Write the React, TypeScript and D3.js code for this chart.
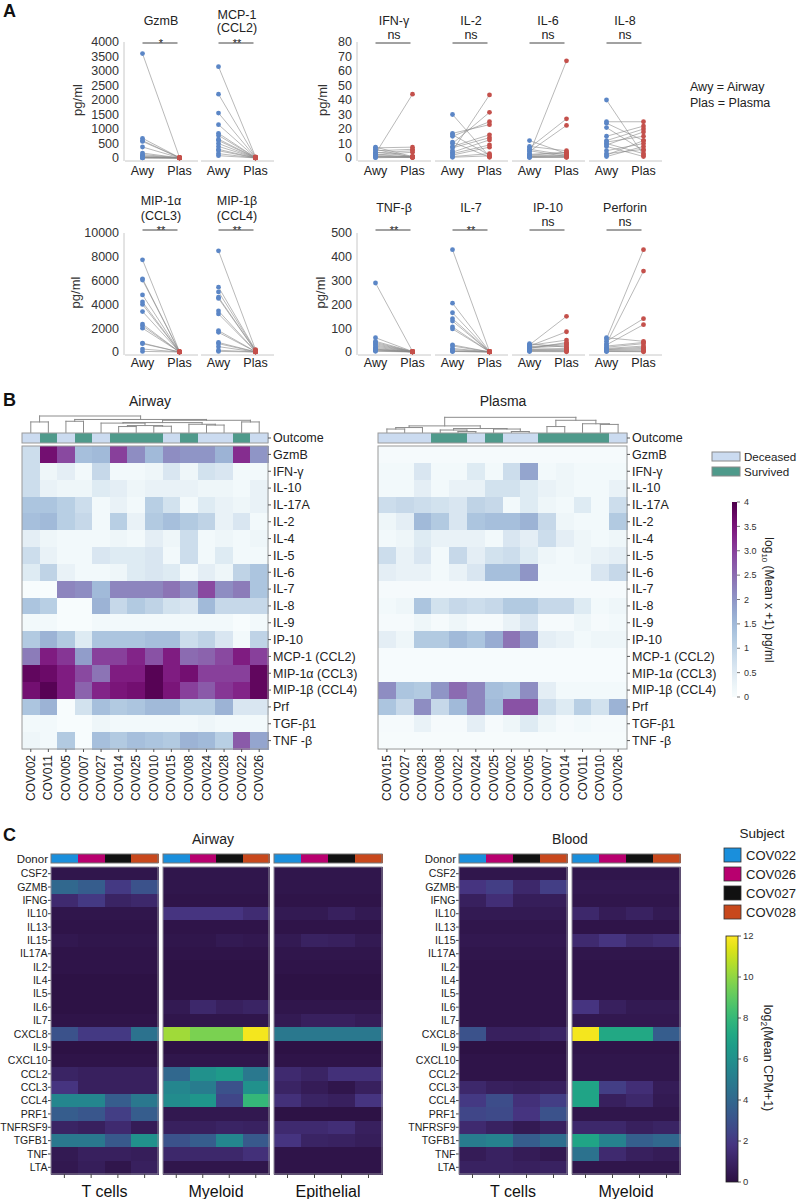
import React from "react";
import * as d3 from "d3";

const FONT = "'Liberation Sans', Arial, Helvetica, sans-serif";
const AWY_COLOR = "#5b86c6";
const PLAS_COLOR = "#c4504b";

// ---------------- Panel A data ----------------
const gzmbAwy = [3600, 680, 600, 570, 380, 170, 120, 80, 50, 30, 20, 10, 5, 2];
const gzmbPlas = [20, 15, 10, 10, 8, 5, 5, 4, 3, 2, 2, 1, 1, 0];
const mcp1Awy = [3150, 2200, 1550, 1150, 850, 780, 650, 600, 500, 400, 250, 150, 80, 300];
const mcp1Plas = [40, 30, 25, 20, 15, 10, 10, 8, 5, 5, 3, 2, 1, 0];
const ifngAwy = [7.5, 7, 6, 5, 4, 3.5, 3, 2.5, 2, 1.5, 1, 1, 0.5, 0.2];
const ifngPlas = [1, 7.5, 0.5, 6, 1, 5, 44, 0.5, 4, 1, 0.5, 1, 0.3, 0.5];
const il2Awy = [30, 17, 16, 15, 11, 10, 8, 7, 5, 4, 3, 2, 1, 0.5];
const il2Plas = [1, 23, 2, 25, 0.5, 31.5, 16, 14, 43.5, 12.5, 9, 7.5, 3, 1.5];
const il6Awy = [12, 8, 7, 6, 5, 4.5, 3, 2.5, 2, 1.5, 1, 1, 0.5, 0.3];
const il6Plas = [3, 5, 27, 2, 1, 22.5, 67, 4, 3.5, 2, 1.5, 1, 0.5, 0.5];
const il8Awy = [40, 25, 24, 21, 15, 12, 11, 10, 9, 5, 1, 2, 3, 8];
const il8Plas = [2, 25, 12, 5, 22, 20, 15, 3, 18, 10, 8, 12, 6, 1];
const mip1aAwy = [7750, 6150, 6050, 4800, 4200, 4000, 3400, 2350, 2200, 2000, 750, 700, 250, 50];
const mip1aPlas = [30, 20, 15, 10, 10, 8, 5, 5, 3, 3, 2, 2, 1, 0];
const mip1bAwy = [8500, 5450, 5050, 4600, 4500, 3450, 3200, 1800, 1650, 800, 700, 450, 150, 50];
const mip1bPlas = [200, 150, 120, 100, 80, 60, 50, 40, 30, 20, 10, 5, 3, 1];
const tnfbAwy = [290, 60, 45, 40, 35, 30, 25, 20, 15, 12, 10, 8, 5, 3];
const tnfbPlas = [3, 2, 2, 1, 1, 1, 1, 0.5, 0.5, 0.5, 0.5, 0.5, 0.2, 0.2];
const il7Awy = [430, 205, 165, 140, 130, 105, 97, 30, 25, 15, 10, 5, 3, 2];
const il7Plas = [2, 2, 1, 1, 1, 1, 1, 0.5, 0.5, 0.5, 0.5, 0.3, 0.2, 0.1];
const ip10Awy = [35, 30, 28, 25, 22, 20, 18, 15, 12, 10, 8, 6, 4, 2];
const ip10Plas = [20, 150, 50, 85, 35, 30, 25, 40, 15, 10, 8, 5, 3, 1];
const prfAwy = [60, 55, 45, 35, 30, 25, 20, 15, 12, 10, 8, 5, 3, 2];
const prfPlas = [45, 430, 140, 340, 115, 40, 35, 25, 20, 15, 10, 5, 3, 1];

const ticksTL = [0, 500, 1000, 1500, 2000, 2500, 3000, 3500, 4000];
const ticksTR = [0, 10, 20, 30, 40, 50, 60, 70, 80];
const ticksBL = [0, 2000, 4000, 6000, 8000, 10000];
const ticksBR = [0, 100, 200, 300, 400, 500];

// ---------------- Panel B data ----------------
const cytokinesB = ["GzmB", "IFN-γ", "IL-10", "IL-17A", "IL-2", "IL-4", "IL-5", "IL-6", "IL-7", "IL-8", "IL-9", "IP-10", "MCP-1 (CCL2)", "MIP-1α (CCL3)", "MIP-1β (CCL4)", "Prf", "TGF-β1", "TNF -β"];
const airwaySubjects = ["COV002", "COV011", "COV005", "COV007", "COV027", "COV014", "COV025", "COV010", "COV015", "COV008", "COV024", "COV028", "COV022", "COV026"];
const airwayOutcome = ["D", "S", "D", "S", "D", "S", "S", "S", "D", "S", "D", "D", "S", "D"];
const plasmaSubjects = ["COV015", "COV027", "COV028", "COV008", "COV022", "COV024", "COV025", "COV002", "COV005", "COV007", "COV014", "COV011", "COV010", "COV026"];
const plasmaOutcome = ["D", "D", "D", "S", "S", "D", "S", "D", "D", "S", "S", "S", "S", "D"];

const airwayValues = [
  [0.8, 3.6, 2.9, 1.4, 1.5, 3.0, 2.1, 1.5, 2.1, 2.0, 2.0, 1.6, 3.2, 2.0],
  [0.8, 0.2, 0.4, 0.1, 0.9, 0.1, 0.1, 0.2, 0.6, 0.2, 0.7, 0.6, 0.1, 0.1],
  [0.8, 0.3, 0.2, 0.2, 0.5, 0.4, 0.2, 0.3, 0.3, 0.3, 0.2, 0.2, 0.1, 0.3],
  [1.3, 1.3, 1.1, 0.8, 0.1, 0.3, 0.1, 1.1, 0.7, 0.1, 0.5, 0.3, 0.2, 0.3],
  [1.4, 1.5, 1.1, 0.9, 0.1, 1.1, 0.3, 1.2, 1.4, 1.2, 1.0, 0.3, 0.6, 0.1],
  [0.4, 0.2, 0.1, 0.1, 0.1, 0.2, 0.1, 0.4, 0.2, 0.8, 0.1, 0.2, 0.1, 0.2],
  [0.8, 0.3, 0.1, 0.1, 0.6, 0.5, 0.5, 0.6, 0.1, 0.8, 0.1, 0.5, 0.1, 0.1],
  [0.5, 1.0, 0.3, 0.1, 0.1, 0.2, 0.5, 0.6, 0.5, 0.1, 0.4, 0.2, 1.0, 1.3],
  [0.0, 0.0, 2.2, 2.1, 1.5, 2.2, 2.2, 2.2, 2.4, 2.1, 2.9, 2.1, 2.3, 1.3],
  [1.3, 1.1, 0.0, 0.0, 1.6, 0.9, 1.2, 1.0, 0.7, 0.6, 1.5, 0.9, 0.9, 0.9],
  [0.1, 0.1, 0.0, 0.0, 0.1, 0.1, 0.1, 0.1, 0.1, 0.1, 0.1, 0.1, 0.0, 0.1],
  [1.2, 1.6, 1.2, 0.5, 1.3, 1.3, 1.3, 1.4, 1.4, 0.8, 1.0, 0.6, 0.1, 1.0],
  [2.3, 3.4, 3.1, 1.9, 3.0, 3.0, 3.3, 2.8, 3.4, 2.5, 2.6, 2.9, 3.4, 3.0],
  [3.8, 3.7, 3.4, 2.9, 2.4, 3.4, 3.4, 3.9, 3.4, 3.6, 3.0, 3.0, 3.0, 3.8],
  [3.6, 3.9, 3.4, 2.6, 3.3, 3.5, 3.6, 3.9, 3.5, 3.0, 2.7, 3.1, 3.3, 3.8],
  [1.3, 1.6, 0.0, 0.7, 1.4, 1.2, 1.3, 1.5, 1.5, 1.1, 1.1, 1.6, 0.6, 0.6],
  [0.1, 0.1, 0.0, 0.0, 0.2, 0.1, 0.1, 0.1, 0.1, 0.1, 0.2, 0.1, 0.1, 0.1],
  [0.2, 0.1, 1.2, 0.0, 1.4, 1.2, 1.4, 1.3, 1.2, 1.6, 1.5, 1.1, 2.7, 1.8],
];
const plasmaValues = [
  [0.05, 0.05, 0.05, 0.05, 0.05, 0.05, 0.05, 0.05, 0.05, 0.05, 0.05, 0.05, 0.05, 0.05],
  [0.1, 0.1, 0.6, 0.1, 0.1, 0.5, 0.1, 0.8, 1.8, 0.1, 0.2, 0.1, 0.1, 0.1],
  [0.1, 0.1, 0.4, 0.1, 0.3, 0.3, 0.7, 0.7, 0.5, 0.3, 0.2, 0.1, 0.1, 0.3],
  [0.8, 0.9, 0.8, 0.7, 0.6, 1.0, 0.9, 0.1, 0.5, 0.2, 0.1, 0.5, 0.1, 0.8],
  [0.2, 0.4, 1.5, 1.2, 0.6, 1.3, 1.4, 1.4, 1.6, 0.9, 0.2, 0.1, 0.1, 1.2],
  [0.1, 0.2, 0.5, 0.3, 0.3, 0.3, 0.1, 0.6, 0.4, 0.8, 0.4, 0.2, 0.1, 0.2],
  [0.8, 0.3, 0.6, 0.1, 0.9, 0.4, 0.7, 0.8, 0.5, 0.2, 0.1, 0.2, 0.3, 0.4],
  [0.4, 0.3, 0.3, 0.1, 0.3, 0.6, 1.4, 1.4, 2.0, 0.1, 0.1, 0.1, 0.6, 0.9],
  [0.05, 0.05, 0.05, 0.05, 0.05, 0.05, 0.05, 0.05, 0.05, 0.05, 0.05, 0.05, 0.05, 0.05],
  [0.1, 0.2, 1.3, 0.7, 0.9, 0.8, 0.9, 1.2, 1.2, 0.9, 0.9, 0.5, 0.1, 0.2],
  [0.05, 0.05, 0.2, 0.05, 0.2, 0.05, 0.05, 0.3, 0.6, 0.05, 0.05, 0.2, 0.05, 0.1],
  [0.4, 0.2, 1.2, 1.2, 1.5, 1.3, 1.7, 2.4, 1.9, 0.4, 0.3, 0.1, 0.2, 0.2],
  [0.02, 0.02, 0.02, 0.02, 0.02, 0.02, 0.02, 0.02, 0.02, 0.02, 0.02, 0.02, 0.02, 0.02],
  [0.02, 0.02, 0.02, 0.02, 0.02, 0.02, 0.02, 0.02, 0.02, 0.02, 0.02, 0.02, 0.02, 0.02],
  [2.1, 1.3, 1.2, 2.0, 2.5, 2.2, 1.4, 1.3, 2.1, 0.4, 0.1, 0.1, 0.1, 0.1],
  [1.3, 0.9, 2.1, 0.9, 1.5, 2.2, 1.5, 2.8, 2.8, 0.8, 0.5, 1.1, 0.7, 1.6],
  [0.05, 0.05, 0.3, 0.05, 0.05, 0.4, 0.05, 0.2, 0.5, 0.2, 0.05, 0.1, 0.05, 0.05],
  [0.03, 0.03, 0.03, 0.03, 0.03, 0.03, 0.03, 0.03, 0.03, 0.03, 0.03, 0.03, 0.03, 0.03],
];
// dendrograms: [height, left, right], leaves = column index
const airwayTree = [1.0, [0.64, 0, 1], [0.79, [0.68, 2, 3], [0.74, [0.6, [0.57, 4, [0.42, [0.36, 5, 6], [0.38, 7, 8]]], [0.5, 9, [0.45, 10, 11]]], [0.64, 12, 13]]]];
const plasmaTree = [0.92, [0.4, [0.3, [0.21, 0, 1], 2], [0.24, [0.15, 3, [0.06, 4, 5]], [0.21, 6, [0.06, 7, 8]]]], [0.74, [0.36, 9, 10], [0.53, 11, [0.49, 12, 13]]]];
const colorTicksB = ["0", "0.5", "1", "1.5", "2", "2.5", "3.0", "3.5", "4"];

// ---------------- Panel C data ----------------
const genesC = ["CSF2", "GZMB", "IFNG", "IL10", "IL13", "IL15", "IL17A", "IL2", "IL4", "IL5", "IL6", "IL7", "CXCL8", "IL9", "CXCL10", "CCL2", "CCL3", "CCL4", "PRF1", "TNFRSF9", "TGFB1", "TNF", "LTA"];
const donors = ["COV022", "COV026", "COV027", "COV028"];
const donorColors = ["#1a8fdc", "#b8006f", "#111111", "#c8481c"];
const airwayTcells = [
  [0.3, 0.3, 0.3, 0.3], [4.0, 3.5, 2.0, 3.0], [1.3, 2.0, 1.0, 1.2], [0.3, 0.3, 0.3, 0.3], [0.2, 0.2, 0.2, 0.2],
  [0.4, 0.3, 0.3, 0.3], [0.2, 0.2, 0.2, 0.2], [0.2, 0.2, 0.2, 0.2], [0.1, 0.1, 0.1, 0.1], [0.1, 0.1, 0.1, 0.1],
  [0.1, 0.1, 0.1, 0.1], [0.2, 0.2, 0.2, 0.2], [3.0, 2.0, 2.0, 4.5], [0.1, 0.1, 0.1, 0.1], [0.2, 0.2, 0.2, 0.2],
  [1.0, 0.8, 0.8, 0.8], [1.8, 0.8, 0.8, 0.8], [5.5, 5.5, 3.5, 4.8], [3.5, 3.2, 2.2, 3.5], [1.0, 0.8, 1.3, 0.6],
  [4.8, 4.8, 3.3, 6.0], [0.5, 0.8, 0.8, 0.7], [0.4, 0.7, 0.3, 0.8],
];
const airwayMyeloid = [
  [0.3, 0.3, 0.3, 0.3], [0.3, 0.3, 0.3, 0.3], [0.2, 0.2, 0.2, 0.2], [1.8, 1.8, 1.8, 1.4], [0.2, 0.2, 0.2, 0.2],
  [0.3, 0.3, 0.5, 0.4], [0.2, 0.2, 0.2, 0.2], [0.1, 0.1, 0.1, 0.1], [0.1, 0.1, 0.1, 0.1], [0.1, 0.1, 0.1, 0.1],
  [0.5, 1.2, 0.8, 1.0], [0.3, 0.3, 0.3, 0.3], [10.3, 9.6, 9.6, 11.8], [0.1, 0.1, 0.1, 0.1], [0.3, 0.3, 0.3, 0.3],
  [4.0, 6.0, 6.5, 4.8], [5.5, 5.0, 3.0, 6.0], [5.8, 6.3, 2.5, 8.0], [0.4, 0.4, 0.4, 0.4], [0.8, 0.8, 1.0, 0.9],
  [3.0, 3.5, 5.5, 3.3], [1.2, 1.2, 1.2, 1.6], [0.3, 0.3, 0.3, 0.3],
];
const airwayEpithelial = [
  [0.3, 0.3, 0.3, 0.3], [0.3, 0.3, 0.3, 0.3], [0.2, 0.2, 0.2, 0.2], [0.5, 0.5, 0.8, 0.5], [0.2, 0.2, 0.2, 0.2],
  [0.5, 0.9, 0.8, 0.5], [0.3, 0.3, 0.3, 0.3], [0.2, 0.2, 0.2, 0.2], [0.1, 0.1, 0.1, 0.1], [0.1, 0.1, 0.1, 0.1],
  [0.3, 0.3, 0.3, 0.3], [0.5, 0.8, 0.8, 0.6], [4.8, 4.8, 4.8, 4.8], [0.1, 0.1, 0.1, 0.1], [0.2, 0.2, 0.2, 0.2],
  [1.3, 1.0, 1.6, 1.6], [1.0, 0.6, 0.3, 0.8], [1.6, 1.0, 0.8, 1.8], [0.1, 0.1, 0.1, 0.1], [1.3, 1.3, 1.5, 0.8],
  [1.8, 1.0, 0.9, 0.7], [0.2, 0.2, 0.2, 0.2], [0.2, 0.2, 0.2, 0.2],
];
const bloodTcells = [
  [0.3, 0.3, 0.3, 0.3], [1.8, 2.2, 1.2, 2.2], [0.8, 1.5, 0.7, 0.7], [0.5, 0.5, 0.5, 0.5], [0.3, 0.3, 0.3, 0.3],
  [0.4, 0.4, 0.4, 0.4], [0.3, 0.3, 0.3, 0.3], [0.2, 0.2, 0.2, 0.2], [0.2, 0.2, 0.2, 0.2], [0.2, 0.2, 0.2, 0.2],
  [0.2, 0.2, 0.2, 0.2], [0.2, 0.2, 0.2, 0.2], [3.0, 0.8, 0.8, 1.0], [0.1, 0.1, 0.1, 0.1], [0.2, 0.2, 0.2, 0.2],
  [0.2, 0.2, 0.2, 0.2], [1.2, 0.8, 0.7, 0.8], [2.0, 2.8, 1.6, 2.2], [2.5, 2.7, 1.8, 3.0], [1.3, 0.9, 0.5, 0.8],
  [5.0, 5.3, 3.5, 4.3], [0.6, 0.9, 0.6, 0.4], [0.9, 0.9, 0.8, 0.9],
];
const bloodMyeloid = [
  [0.3, 0.3, 0.3, 0.3], [0.4, 0.4, 0.4, 0.4], [0.3, 0.3, 0.3, 0.3], [1.2, 0.6, 0.9, 0.5], [0.2, 0.2, 0.2, 0.2],
  [1.3, 1.8, 1.2, 1.4], [0.3, 0.3, 0.3, 0.3], [0.2, 0.2, 0.2, 0.2], [0.2, 0.2, 0.2, 0.2], [0.2, 0.2, 0.2, 0.2],
  [1.8, 0.8, 0.5, 0.5], [0.4, 0.4, 0.4, 0.4], [11.8, 7.2, 7.2, 3.5], [0.2, 0.2, 0.2, 0.2], [0.3, 0.3, 0.3, 0.3],
  [0.3, 0.3, 0.3, 0.3], [7.0, 2.2, 1.5, 0.6], [7.0, 0.8, 1.2, 0.5], [0.3, 0.3, 0.3, 0.3], [1.2, 1.2, 0.8, 1.0],
  [7.0, 5.3, 3.6, 4.0], [4.5, 1.3, 0.8, 0.6], [0.3, 0.3, 0.3, 0.3],
];
const colorTicksC = [0, 2, 4, 6, 8, 10, 12];

// ---------------- helpers ----------------
const buPu = (v: number) => d3.interpolateBuPu(Math.max(0, Math.min(1, v / 4)));
const viri = (v: number) => {
  const t = Math.max(0, Math.min(1, v / 12));
  if (t < 0.15) return d3.interpolateRgb("#2c1042", d3.interpolateViridis(0.15))(t / 0.15);
  return d3.interpolateViridis(t);
};

type PanelSpec = { title: string[]; sig: string; awy: number[]; plas: number[] };
const topLeftPanels: PanelSpec[] = [
  { title: ["GzmB"], sig: "*", awy: gzmbAwy, plas: gzmbPlas },
  { title: ["MCP-1", "(CCL2)"], sig: "**", awy: mcp1Awy, plas: mcp1Plas },
];
const topRightPanels: PanelSpec[] = [
  { title: ["IFN-γ"], sig: "ns", awy: ifngAwy, plas: ifngPlas },
  { title: ["IL-2"], sig: "ns", awy: il2Awy, plas: il2Plas },
  { title: ["IL-6"], sig: "ns", awy: il6Awy, plas: il6Plas },
  { title: ["IL-8"], sig: "ns", awy: il8Awy, plas: il8Plas },
];
const botLeftPanels: PanelSpec[] = [
  { title: ["MIP-1α", "(CCL3)"], sig: "**", awy: mip1aAwy, plas: mip1aPlas },
  { title: ["MIP-1β", "(CCL4)"], sig: "**", awy: mip1bAwy, plas: mip1bPlas },
];
const botRightPanels: PanelSpec[] = [
  { title: ["TNF-β"], sig: "**", awy: tnfbAwy, plas: tnfbPlas },
  { title: ["IL-7"], sig: "**", awy: il7Awy, plas: il7Plas },
  { title: ["IP-10"], sig: "ns", awy: ip10Awy, plas: ip10Plas },
  { title: ["Perforin"], sig: "ns", awy: prfAwy, plas: prfPlas },
];

type Group = { panels: PanelSpec[]; ticks: number[]; axisX: number; step: number; yTop: number; yBot: number; row: number; labelOff: number };
const groupsA: Group[] = [
  { panels: topLeftPanels, ticks: ticksTL, axisX: 124, step: 76, yTop: 42, yBot: 158, row: 0, labelOff: 42 },
  { panels: topRightPanels, ticks: ticksTR, axisX: 357, step: 77, yTop: 42, yBot: 158, row: 0, labelOff: 30 },
  { panels: botLeftPanels, ticks: ticksBL, axisX: 124, step: 76, yTop: 233, yBot: 352, row: 1, labelOff: 44 },
  { panels: botRightPanels, ticks: ticksBR, axisX: 357, step: 77, yTop: 233, yBot: 352, row: 1, labelOff: 32 },
];
const rowGeom = [
  { single: 25, two: [19, 32], sigLine: 43, star: 47, ns: 38.5, xlab: 175 },
  { single: 212, two: [205, 220], sigLine: 230, star: 234, ns: 225.5, xlab: 367 },
];

function GroupA({ g }: { g: Group }) {
  const y = d3.scaleLinear().domain([0, g.ticks[g.ticks.length - 1]]).range([g.yBot, g.yTop]);
  const rg = rowGeom[g.row];
  return (
    <g>
      <line x1={g.axisX} x2={g.axisX} y1={g.yTop} y2={g.yBot + 3} stroke="#c8c8c8" />
      {g.ticks.map((t) => (
        <text key={t} x={g.axisX - 5} y={y(t)} dy="0.35em" textAnchor="end" fontSize={12.5} fill="#333">{t}</text>
      ))}
      <text transform={`translate(${g.axisX - g.labelOff},${(g.yTop + g.yBot) / 2}) rotate(-90)`} textAnchor="middle" fontSize={13} fill="#333">pg/ml</text>
      {g.panels.map((p, i) => {
        const px = g.axisX + i * g.step;
        const xa = px + 18.5, xp = px + 55.5;
        const cx = (xa + xp) / 2;
        return (
          <g key={i}>
            <line x1={px + 1} x2={px + 74} y1={g.yBot + 3} y2={g.yBot + 3} stroke="#c8c8c8" />
            {p.title.length === 1 ? (
              <text x={cx} y={rg.single} textAnchor="middle" fontSize={12.5} fill="#222">{p.title[0]}</text>
            ) : (
              p.title.map((t, k) => (
                <text key={k} x={cx} y={rg.two[k]} textAnchor="middle" fontSize={12.5} fill="#222">{t}</text>
              ))
            )}
            <line x1={xa} x2={xp - 2} y1={rg.sigLine} y2={rg.sigLine} stroke="#444" strokeWidth={1} />
            <text x={cx} y={p.sig === "ns" ? rg.ns : rg.star} textAnchor="middle" fontSize={p.sig === "ns" ? 12.5 : 11} fill="#222">{p.sig}</text>
            {p.awy.map((v, k) => (
              <line key={"l" + k} x1={xa} y1={y(v)} x2={xp} y2={y(p.plas[k])} stroke="#8a8a8a" strokeWidth={0.6} />
            ))}
            {p.awy.map((v, k) => (
              <circle key={"a" + k} cx={xa} cy={y(v)} r={2.4} fill={AWY_COLOR} />
            ))}
            {p.plas.map((v, k) => (
              <circle key={"p" + k} cx={xp} cy={y(v)} r={2.4} fill={PLAS_COLOR} />
            ))}
            <text x={xa} y={rg.xlab} textAnchor="middle" fontSize={12.5} fill="#222">Awy</text>
            <text x={xp} y={rg.xlab} textAnchor="middle" fontSize={12.5} fill="#222">Plas</text>
          </g>
        );
      })}
    </g>
  );
}

function Dendro({ tree, xOf, yTop, yBot }: { tree: any; xOf: (i: number) => number; yTop: number; yBot: number }) {
  const segs: number[][] = [];
  const yS = d3.scaleLinear().domain([0, 1]).range([yBot, yTop]);
  const walk = (n: any): { x: number; y: number } => {
    if (typeof n === "number") return { x: xOf(n), y: yBot };
    const [h, a, b] = n;
    const pa = walk(a);
    const pb = walk(b);
    const yy = yS(h);
    segs.push([pa.x, pa.y, pa.x, yy], [pb.x, pb.y, pb.x, yy], [pa.x, yy, pb.x, yy]);
    return { x: (pa.x + pb.x) / 2, y: yy };
  };
  walk(tree);
  return (
    <g>
      {segs.map((s, i) => (
        <line key={i} x1={s[0]} y1={s[1]} x2={s[2]} y2={s[3]} stroke="#8c8c8c" strokeWidth={1} strokeLinecap="square" />
      ))}
    </g>
  );
}

function HeatmapB({ x0, x1, subjects, outcome, values, tree }: { x0: number; x1: number; subjects: string[]; outcome: string[]; values: number[][]; tree: any }) {
  const xs = d3.scaleBand<string>().domain(subjects).range([x0, x1]);
  const ys = d3.scaleBand<string>().domain(cytokinesB).range([446, 749]);
  const bw = xs.bandwidth();
  const xOf = (i: number) => (xs(subjects[i]) as number) + bw / 2;
  return (
    <g>
      <Dendro tree={tree} xOf={xOf} yTop={416} yBot={432.5} />
      <g shapeRendering="crispEdges">
        {subjects.map((s, i) => (
          <rect key={s} x={xs(s)} y={433} width={bw + 0.5} height={10} fill={outcome[i] === "S" ? "#4f9a8b" : "#cbdbf0"} />
        ))}
        {values.map((row, r) =>
          row.map((v, c) => (
            <rect key={r + "-" + c} x={xs(subjects[c])} y={ys(cytokinesB[r])} width={bw + 0.5} height={ys.bandwidth() + 0.5} fill={buPu(v)} />
          ))
        )}
      </g>
      <rect x={x0} y={433} width={x1 - x0} height={10} fill="none" stroke="#9a9a9a" />
      <line x1={x1} x2={x1 + 3} y1={438} y2={438} stroke="#555" />
      <text x={x1 + 5} y={438} dy="0.35em" fontSize={12.5} fill="#222">Outcome</text>
      <rect x={x0} y={446} width={x1 - x0} height={303} fill="none" stroke="#9a9a9a" />
      {cytokinesB.map((cName) => (
        <g key={cName}>
          <line x1={x1} x2={x1 + 3} y1={(ys(cName) as number) + ys.bandwidth() / 2} y2={(ys(cName) as number) + ys.bandwidth() / 2} stroke="#555" />
          <text x={x1 + 5} y={(ys(cName) as number) + ys.bandwidth() / 2} dy="0.35em" fontSize={12.5} fill="#222">{cName}</text>
        </g>
      ))}
      {subjects.map((s) => {
        const cx = (xs(s) as number) + bw / 2;
        return (
          <g key={s}>
            <line x1={cx} x2={cx} y1={749} y2={752} stroke="#555" />
            <text transform={`translate(${cx + 4},${755}) rotate(-90)`} textAnchor="end" fontSize={12} fill="#222">{s}</text>
          </g>
        );
      })}
    </g>
  );
}

const rowsTopC = 867, rowsBotC = 1174;
function HeatmapC({ x0, x1, values, label }: { x0: number; x1: number; values: number[][]; label: string }) {
  const xs = d3.scaleBand<string>().domain(donors).range([x0, x1]);
  const ys = d3.scaleBand<string>().domain(genesC).range([rowsTopC, rowsBotC]);
  const bw = xs.bandwidth();
  return (
    <g>
      <g shapeRendering="crispEdges">
        {donors.map((d, i) => (
          <rect key={d} x={xs(d)} y={854} width={bw + 0.5} height={9} fill={donorColors[i]} />
        ))}
        {values.map((row, r) =>
          row.map((v, c) => (
            <rect key={r + "-" + c} x={xs(donors[c])} y={ys(genesC[r])} width={bw + 0.5} height={ys.bandwidth() + 0.5} fill={viri(v)} />
          ))
        )}
      </g>
      <rect x={x0} y={854} width={x1 - x0} height={9} fill="none" stroke="#777" />
      <rect x={x0} y={rowsTopC} width={x1 - x0} height={rowsBotC - rowsTopC} fill="none" stroke="#8d8a99" />
      {donors.map((d) => {
        const cx = (xs(d) as number) + bw / 2;
        return <line key={d} x1={cx} x2={cx} y1={rowsBotC} y2={rowsBotC + 4} stroke="#444" />;
      })}
      <text x={(x0 + x1) / 2} y={1197} textAnchor="middle" fontSize={16} fill="#111">{label}</text>
    </g>
  );
}

function RowLabelsC({ xRight }: { xRight: number }) {
  const ys = d3.scaleBand<string>().domain(genesC).range([rowsTopC, rowsBotC]);
  return (
    <g>
      <text x={xRight - 3} y={858.5} dy="0.35em" textAnchor="end" fontSize={11.5} fill="#222">Donor</text>
      {genesC.map((gName) => {
        const yy = (ys(gName) as number) + ys.bandwidth() / 2;
        return (
          <g key={gName}>
            <line x1={xRight - 3} x2={xRight} y1={yy} y2={yy} stroke="#444" />
            <text x={xRight - 3.5} y={yy} dy="0.35em" textAnchor="end" fontSize={10.5} fill="#222">{gName}</text>
          </g>
        );
      })}
    </g>
  );
}

export default function App() {
  const cbB = d3.scaleLinear().domain([0, 4]).range([697, 502]);
  const cbC = d3.scaleLinear().domain([0, 12]).range([1182, 936]);
  const stops = d3.range(0, 1.0001, 0.05);
  return (
    <svg width={797} height={1199} style={{ position: "absolute", left: 0, top: 0, background: "#fff" }} fontFamily={FONT}>
      <defs>
        <linearGradient id="gradB" x1="0" y1="1" x2="0" y2="0">
          {stops.map((t) => <stop key={t} offset={t} stopColor={buPu(t * 4)} />)}
        </linearGradient>
        <linearGradient id="gradC" x1="0" y1="1" x2="0" y2="0">
          {stops.map((t) => <stop key={t} offset={t} stopColor={viri(t * 12)} />)}
        </linearGradient>
      </defs>
      <rect x={0} y={0} width={797} height={1199} fill="#fff" />

      {/* Panel A */}
      <text x={3} y={17} fontSize={18} fontWeight="bold" fill="#111">A</text>
      {groupsA.map((g, i) => <GroupA key={i} g={g} />)}
      <text x={690} y={91} fontSize={12.5} fill="#222">Awy = Airway</text>
      <text x={690} y={107} fontSize={12.5} fill="#222">Plas = Plasma</text>

      {/* Panel B */}
      <text x={3} y={406} fontSize={18} fontWeight="bold" fill="#111">B</text>
      <text x={150} y={406} textAnchor="middle" fontSize={14} fill="#222">Airway</text>
      <text x={503} y={406} textAnchor="middle" fontSize={14} fill="#222">Plasma</text>
      <HeatmapB x0={22} x1={268} subjects={airwaySubjects} outcome={airwayOutcome} values={airwayValues} tree={airwayTree} />
      <HeatmapB x0={378} x1={627} subjects={plasmaSubjects} outcome={plasmaOutcome} values={plasmaValues} tree={plasmaTree} />
      <rect x={712} y={452} width={28} height={9} fill="#cbdbf0" stroke="#8a8a8a" />
      <text x={744} y={457} dy="0.35em" fontSize={11.6} fill="#222">Deceased</text>
      <rect x={712} y={467} width={28} height={9} fill="#4f9a8b" stroke="#8a8a8a" />
      <text x={744} y={472} dy="0.35em" fontSize={11.6} fill="#222">Survived</text>
      <rect x={732} y={502} width={5} height={195} fill="url(#gradB)" />
      {colorTicksB.map((t) => (
        <g key={t}>
          <line x1={737} x2={740} y1={cbB(+t)} y2={cbB(+t)} stroke="#555" strokeWidth={0.8} />
          <text x={744} y={cbB(+t)} dy="0.35em" fontSize={9} fill="#333">{t}</text>
        </g>
      ))}
      <text transform="translate(765,600) rotate(90)" textAnchor="middle" fontSize={12} fill="#222">
        log<tspan fontSize={8} dy={3}>10</tspan><tspan dy={-3}> (Mean x +1) pg/ml</tspan>
      </text>

      {/* Panel C */}
      <text x={3} y={841} fontSize={18} fontWeight="bold" fill="#111">C</text>
      <text x={213} y={844} textAnchor="middle" fontSize={14} fill="#222">Airway</text>
      <text x={570} y={844} textAnchor="middle" fontSize={14} fill="#222">Blood</text>
      <RowLabelsC xRight={51} />
      <HeatmapC x0={51} x1={158} values={airwayTcells} label="T cells" />
      <HeatmapC x0={163} x1={269} values={airwayMyeloid} label="Myeloid" />
      <HeatmapC x0={274} x1={382} values={airwayEpithelial} label="Epithelial" />
      <RowLabelsC xRight={459} />
      <HeatmapC x0={459} x1={567} values={bloodTcells} label="T cells" />
      <HeatmapC x0={572} x1={680} values={bloodMyeloid} label="Myeloid" />

      <text x={762} y={838} textAnchor="middle" fontSize={13.5} fill="#222">Subject</text>
      {donors.map((d, i) => (
        <g key={d}>
          <rect x={724} y={848 + i * 19} width={17} height={14} fill={donorColors[i]} stroke="#333" strokeWidth={0.8} />
          <text x={746} y={855 + i * 19} dy="0.35em" fontSize={13} fill="#222">{d}</text>
        </g>
      ))}
      <rect x={726} y={936} width={12} height={246} fill="url(#gradC)" stroke="#222" strokeWidth={0.8} />
      {colorTicksC.map((t) => (
        <g key={t}>
          <line x1={738} x2={741} y1={cbC(t)} y2={cbC(t)} stroke="#333" strokeWidth={0.8} />
          <text x={743} y={cbC(t)} dy="0.35em" fontSize={9.5} fill="#333">{t}</text>
        </g>
      ))}
      <text transform="translate(764,1058) rotate(90)" textAnchor="middle" fontSize={12.5} fill="#222">
        log<tspan fontSize={8.5} dy={3}>2</tspan><tspan dy={-3}>(Mean CPM+1)</tspan>
      </text>
    </svg>
  );
}
